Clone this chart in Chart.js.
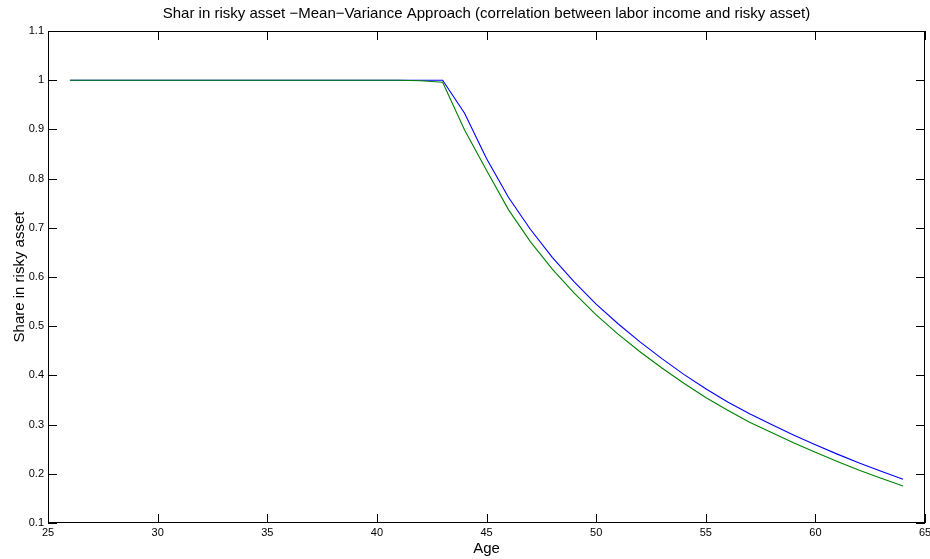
<!DOCTYPE html>
<html>
<head>
<meta charset="utf-8">
<title>Share in risky asset</title>
<script src="https://cdn.jsdelivr.net/npm/chart.js@4.4.1/dist/chart.umd.min.js"></script>
<style>
    html, body { margin: 0; padding: 0; background: #fff; }
    #wrap { width: 930px; height: 559px; }
</style>
</head>
<body>
<div id="wrap"><canvas id="shareChart"></canvas></div>
<script>
// Age of the investor (x axis)
const ages = [26, 27, 28, 29, 30, 31, 32, 33, 34, 35, 36, 37, 38, 39, 40, 41, 42, 43, 44, 45,
              46, 47, 48, 49, 50, 51, 52, 53, 54, 55, 56, 57, 58, 59, 60, 61, 62, 63, 64];

// Share in risky asset, blue series
const shareBlue = [1, 1, 1, 1, 1, 1, 1, 1, 1, 1, 1, 1, 1, 1, 1, 1, 1, 1, 0.933, 0.841,
                   0.762, 0.697, 0.640, 0.590, 0.545, 0.505, 0.468, 0.434, 0.402, 0.373,
                   0.346, 0.322, 0.300, 0.279, 0.259, 0.240, 0.222, 0.205, 0.189];

// Share in risky asset, green series
const shareGreen = [1, 1, 1, 1, 1, 1, 1, 1, 1, 1, 1, 1, 1, 1, 1, 1, 0.999, 0.996, 0.899, 0.817,
                    0.737, 0.672, 0.616, 0.567, 0.523, 0.484, 0.448, 0.415, 0.384, 0.355,
                    0.329, 0.305, 0.284, 0.263, 0.244, 0.225, 0.207, 0.191, 0.175];

// Tick values on both axes
const xTicks = [25, 30, 35, 40, 45, 50, 55, 60, 65];
const yTicks = [0.1, 0.2, 0.3, 0.4, 0.5, 0.6, 0.7, 0.8, 0.9, 1, 1.1];

const FONT = "'Liberation Sans', Arial, Helvetica, sans-serif";
const TICK_LEN = 9;

// Box around the axes with inward ticks on all four sides
const boxTicks = {
    id: 'boxTicks',
    afterDatasetsDraw(chart) {
        const { ctx, chartArea: a, scales: { x, y } } = chart;
        ctx.save();
        ctx.strokeStyle = '#000';
        ctx.lineWidth = 1;
        ctx.beginPath();
        xTicks.forEach(v => {
            const px = Math.round(x.getPixelForValue(v)) + 0.5;
            ctx.moveTo(px, a.bottom);
            ctx.lineTo(px, a.bottom - TICK_LEN);
            ctx.moveTo(px, a.top);
            ctx.lineTo(px, a.top + TICK_LEN);
        });
        yTicks.forEach(v => {
            const py = Math.round(y.getPixelForValue(v)) + 0.5;
            ctx.moveTo(a.left, py);
            ctx.lineTo(a.left + TICK_LEN, py);
            ctx.moveTo(a.right, py);
            ctx.lineTo(a.right - TICK_LEN, py);
        });
        ctx.stroke();
        ctx.strokeRect(Math.round(a.left) + 0.5, Math.round(a.top) + 0.5,
                       Math.round(a.width) - 1, Math.round(a.height) - 1);
        ctx.restore();
    }
};

const ctx = document.getElementById('shareChart').getContext('2d');
new Chart(ctx, {
    type: 'line',
    data: {
        datasets: [
            {
                label: 'green',
                data: ages.map((a, i) => ({ x: a, y: shareGreen[i] })),
                borderColor: '#008000',
                borderWidth: 1.1,
                pointRadius: 0,
                tension: 0
            },
            {
                label: 'blue',
                data: ages.map((a, i) => ({ x: a, y: shareBlue[i] })),
                borderColor: '#0000ff',
                borderWidth: 1.1,
                pointRadius: 0,
                tension: 0
            }
        ]
    },
    options: {
        responsive: true,
        maintainAspectRatio: false,
        devicePixelRatio: 1,
        animation: false,
        layout: { padding: { left: 0, right: 5, top: 0, bottom: 0 } },
        plugins: {
            legend: { display: false },
            tooltip: { enabled: false },
            title: {
                display: true,
                fullSize: false,
                text: 'Shar in risky asset \u2212Mean\u2212Variance Approach (correlation between labor income and risky asset)',
                color: '#000',
                font: { family: FONT, size: 15, weight: 'normal' },
                padding: { top: 5, bottom: 8 }
            }
        },
        scales: {
            x: {
                type: 'linear',
                min: 25,
                max: 65,
                grid: { display: false, drawTicks: false },
                border: { display: false },
                afterBuildTicks: s => { s.ticks = xTicks.map(v => ({ value: v })); },
                afterFit: s => {
                    s.height = 36;
                    s.paddingLeft = 0;
                    s.paddingRight = 0;
                },
                ticks: {
                    color: '#000',
                    padding: 3,
                    maxRotation: 0,
                    autoSkip: false,
                    font: { family: FONT, size: 11 },
                    callback: v => String(v)
                },
                title: {
                    display: true,
                    text: 'Age',
                    color: '#000',
                    font: { family: FONT, size: 15 },
                    padding: { top: 0, bottom: 1 }
                }
            },
            y: {
                min: 0.1,
                max: 1.1,
                grid: { display: false, drawTicks: false },
                border: { display: false },
                afterBuildTicks: s => { s.ticks = yTicks.map(v => ({ value: v })); },
                afterFit: s => {
                    s.width = 48;
                    s.paddingTop = 0;
                    s.paddingBottom = 0;
                },
                ticks: {
                    color: '#000',
                    padding: 4,
                    autoSkip: false,
                    font: { family: FONT, size: 11 },
                    callback: v => String(+v.toFixed(1))
                },
                title: {
                    display: true,
                    text: 'Share in risky asset',
                    color: '#000',
                    font: { family: FONT, size: 15 },
                    padding: { top: 10.5, bottom: 0 }
                }
            }
        }
    },
    plugins: [boxTicks]
});
</script>
</body>
</html>
